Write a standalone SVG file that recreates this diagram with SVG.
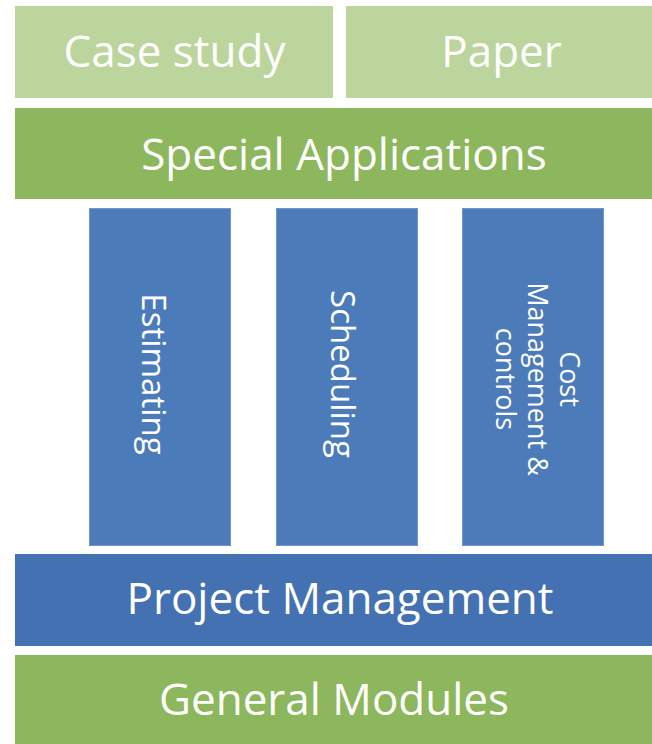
<svg xmlns="http://www.w3.org/2000/svg" width="652" height="744" viewBox="0 0 652 744">
<style>
.t{font-family:"Open Sans","DejaVu Sans",sans-serif;fill:#ffffff;text-anchor:middle;font-weight:500}
.big{font-size:44px}
.mid{font-size:33px}
.sm{font-size:27px}
.lg{fill:#bcd59c}
.gr{fill:#8db75c}
.col{fill:#4c7bba;stroke:#6f97cb;stroke-width:1}
.pm{fill:#4371b2}
</style>
<rect width="652" height="744" fill="#ffffff"/>
<g id="case-study">
<rect class="lg" x="15" y="6" width="318" height="92"/>
<text class="t big" x="174.5" y="67">Case study</text>
</g>
<g id="paper">
<rect class="lg" x="346" y="6" width="306" height="92"/>
<text class="t big" x="501.5" y="67">Paper</text>
</g>
<g id="special-applications">
<rect class="gr" x="15" y="108" width="637" height="91"/>
<text class="t big" x="344" y="170">Special Applications</text>
</g>
<g id="estimating">
<rect class="col" x="89.5" y="208.5" width="141" height="337"/>
<text class="t mid" transform="translate(142,374) rotate(90)" x="0" y="0">Estimating</text>
</g>
<g id="scheduling">
<rect class="col" x="276.5" y="208.5" width="141" height="337"/>
<text class="t mid" transform="translate(331,374) rotate(90)" x="0" y="0">Scheduling</text>
</g>
<g id="cost-management">
<rect class="col" x="462.5" y="208.5" width="141" height="337"/>
<text class="t sm" transform="translate(560,379) rotate(90)"><tspan x="0" y="0">Cost</tspan><tspan x="0" y="32">Management &amp;</tspan><tspan x="0" y="64">controls</tspan></text>
</g>
<g id="project-management">
<rect class="pm" x="15" y="554" width="637" height="92"/>
<text class="t big" x="340" y="614">Project Management</text>
</g>
<g id="general-modules">
<rect class="gr" x="15" y="655" width="637" height="89"/>
<text class="t big" x="334" y="715">General Modules</text>
</g>
<g id="connectors"></g>
</svg>
